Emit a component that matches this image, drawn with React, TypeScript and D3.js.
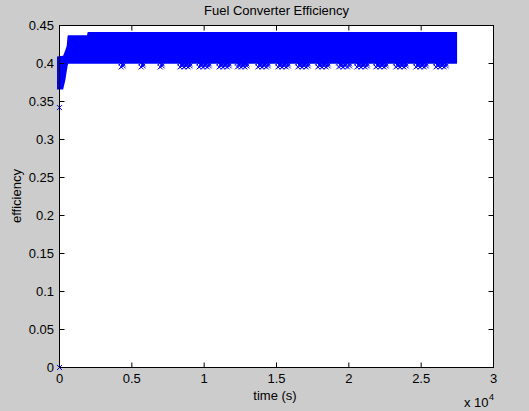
import React from "react";
import * as d3 from "d3";

// ---- data ----
// envelope of the dense marker band (marker centres)
const envTime = [0, 250, 400, 500, 560, 600, 1900, 1950, 27310];
const envUpper = [0.406, 0.407, 0.414, 0.42, 0.433, 0.434, 0.434, 0.438, 0.438];
const envLower = [0.369, 0.369, 0.381, 0.393, 0.4, 0.403, 0.403, 0.403, 0.403];

// periodic dips below the band: start / end time of each cluster
const dipStart = [4260, 5640, 6960, 8330, 9650, 11030, 12300, 13720, 15100, 16480, 17860, 19300, 20560, 21870, 23250, 24640, 26020];
const dipEnd = [4400, 5780, 7100, 9030, 10350, 11730, 12950, 14430, 15810, 17190, 18570, 20050, 21270, 22580, 23960, 25350, 26730];
const dipLow = 0.3955;
const dipHigh = 0.3995;

// isolated points
const outlierTime = [0, 0];
const outlierValue = [0.342, 0];

const xTicks = [0, 5000, 10000, 15000, 20000, 25000, 30000];
const xTickLabels = ["0", "0.5", "1", "1.5", "2", "2.5", "3"];
const yTicks = [0, 0.05, 0.1, 0.15, 0.2, 0.25, 0.3, 0.35, 0.4, 0.45];
const yTickLabels = ["0", "0.05", "0.1", "0.15", "0.2", "0.25", "0.3", "0.35", "0.4", "0.45"];

const W = 529;
const H = 411;
const L = 59.5;
const R = 493.5;
const T = 25.5;
const B = 367.5;
const BLUE = "#0000ff";
const FONT = "'Liberation Sans', Arial, Helvetica, sans-serif";

const x = d3.scaleLinear().domain([0, 30000]).range([L, R]);
const y = d3.scaleLinear().domain([0, 0.45]).range([B, T]);

const M = 2.5; // marker half size (px)

function Marker({ cx, cy }: { cx: number; cy: number }) {
  return (
    <path
      d={`M${cx - M},${cy - M}L${cx + M},${cy + M}M${cx - M},${cy + M}L${cx + M},${cy - M}`}
      stroke={BLUE}
      strokeWidth={1}
      fill="none"
    />
  );
}

export default function App() {
  const idx = envTime.map((_, i) => i);
  const area = d3
    .area<number>()
    .x((i) => {
      const px = x(envTime[i]);
      if (i === 0) return px - M;
      if (i === envTime.length - 1) return px + M;
      return px;
    })
    .y0((i) => y(envLower[i]) + M)
    .y1((i) => y(envUpper[i]) - M);

  const dipMarkers: { cx: number; cy: number }[] = [];
  dipStart.forEach((s, k) => {
    const e = dipEnd[k];
    const x0 = x(s);
    const x1 = x(e);
    const n = Math.max(1, Math.round((x1 - x0) / 2));
    for (let j = 0; j <= n; j++) {
      const px = x0 + ((x1 - x0) * j) / n;
      dipMarkers.push({ cx: px, cy: y(j % 2 === 0 ? dipLow : dipHigh) });
      dipMarkers.push({ cx: px, cy: y(j % 2 === 0 ? dipHigh : dipLow) - 1 });
    }
  });

  return (
    <svg
      width={W}
      height={H}
      style={{ position: "fixed", left: 0, top: 0, display: "block" }}
      fontFamily={FONT}
    >
      <rect x={0} y={0} width={W} height={H} fill="#cccccc" />
      <rect x={L} y={T} width={R - L} height={B - T} fill="#ffffff" />

      {/* data */}
      <path d={area(idx) || ""} fill={BLUE} />
      {dipMarkers.map((m, i) => (
        <Marker key={"d" + i} cx={m.cx} cy={m.cy} />
      ))}
      {outlierTime.map((t, i) => (
        <Marker key={"o" + i} cx={x(t)} cy={y(outlierValue[i])} />
      ))}

      {/* axes box */}
      <rect x={L} y={T} width={R - L} height={B - T} fill="none" stroke="#000" strokeWidth={1} />
      {xTicks.map((t, i) => (
        <g key={"xt" + i}>
          <line x1={x(t)} x2={x(t)} y1={B} y2={B - 5} stroke="#000" />
          <line x1={x(t)} x2={x(t)} y1={T} y2={T + 5} stroke="#000" />
          <text x={x(t)} y={383} fontSize={13} textAnchor="middle" fill="#000">
            {xTickLabels[i]}
          </text>
        </g>
      ))}
      {yTicks.map((v, i) => (
        <g key={"yt" + i}>
          <line x1={L} x2={L + 5} y1={y(v)} y2={y(v)} stroke="#000" />
          <line x1={R} x2={R - 5} y1={y(v)} y2={y(v)} stroke="#000" />
          <text x={54} y={y(v)} dy="0.36em" fontSize={13} textAnchor="end" fill="#000">
            {yTickLabels[i]}
          </text>
        </g>
      ))}

      {/* labels */}
      <text x={(L + R) / 2} y={15} fontSize={13} textAnchor="middle" fill="#000">
        Fuel Converter Efficiency
      </text>
      <text x={275} y={400} fontSize={13} textAnchor="middle" fill="#000">
        time (s)
      </text>
      <text
        transform={`translate(21,196) rotate(-90)`}
        fontSize={13}
        textAnchor="middle"
        fill="#000"
      >
        efficiency
      </text>
      <text x={464} y={406.5} fontSize={13} fill="#000">
        x 10
      </text>
      <text x={489} y={400} fontSize={9} fill="#000">
        4
      </text>
    </svg>
  );
}
